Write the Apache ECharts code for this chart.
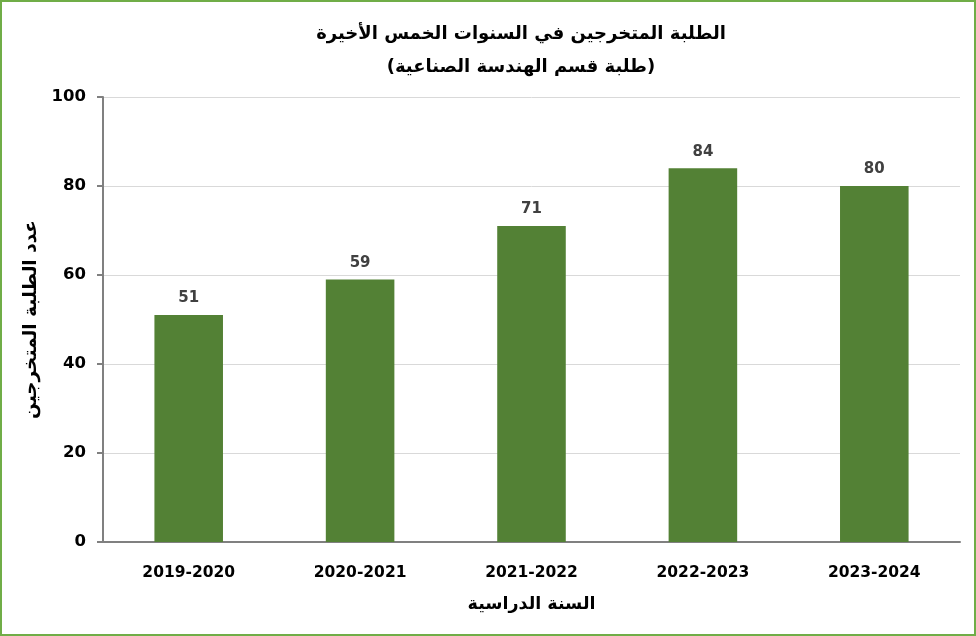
<!DOCTYPE html>
<html>
<head>
<meta charset="utf-8">
<script src="https://cdn.jsdelivr.net/npm/echarts@6/dist/echarts.min.js"></script>
<style>
html,body{margin:0;padding:0;background:#fff;}
#wrap{width:976px;height:636px;box-sizing:border-box;border:2px solid #70ad47;position:relative;}
#chart{position:absolute;left:-2px;top:-2px;width:976px;height:636px;}
</style>
</head>
<body>
<div id="wrap"><div id="chart"></div></div>
<script>
const categories = ['2019-2020','2020-2021','2021-2022','2022-2023','2023-2024'];
const graduates = [51, 59, 71, 84, 80];
const yTicks = [0, 20, 40, 60, 80, 100];

const titleLine1 = 'الطلبة المتخرجين في السنوات الخمس الأخيرة';
const titleLine2 = '(طلبة قسم الهندسة الصناعية)';
const xName = 'السنة الدراسية';
const yName = 'عدد الطلبة المتخرجين';

const chart = echarts.init(document.getElementById('chart'));
chart.setOption({
  animation: false,
  textStyle: {fontFamily: 'DejaVu Sans, sans-serif'},
  title: {
    text: titleLine1 + '\n' + titleLine2,
    left: 516, top: 13, textAlign: 'center',
    textStyle: {fontSize: 18, fontWeight: 'bold', color: '#000', lineHeight: 33, fontFamily: 'DejaVu Sans'}
  },
  grid: {left: 103, right: 16, top: 97, bottom: 94, containLabel: false},
  xAxis: {
    type: 'category', data: categories,
    name: xName, nameLocation: 'middle', nameGap: 53,
    nameTextStyle: {fontSize: 17.5, fontWeight: 'bold', color: '#000', fontFamily: 'DejaVu Sans'},
    axisLine: {lineStyle: {color: '#808080', width: 2}},
    axisTick: {show: false},
    axisLabel: {fontSize: 15.5, fontWeight: 'bold', color: '#000', margin: 23, fontFamily: 'DejaVu Sans'}
  },
  yAxis: {
    type: 'value', min: yTicks[0], max: yTicks[yTicks.length-1], interval: 20,
    name: yName, nameLocation: 'middle', nameGap: 58, nameRotate: 90,
    nameTextStyle: {fontSize: 18.5, fontWeight: 'bold', color: '#000', fontFamily: 'DejaVu Sans'},
    axisLine: {show: true, lineStyle: {color: '#808080', width: 2}},
    axisTick: {show: true, length: 6, lineStyle: {color: '#808080', width: 2}},
    axisLabel: {fontSize: 16.5, fontWeight: 'bold', color: '#000', margin: 17, fontFamily: 'DejaVu Sans'},
    splitLine: {lineStyle: {color: '#d9d9d9', width: 1}}
  },
  series: [{
    type: 'bar', data: graduates, barWidth: '40%',
    itemStyle: {color: '#538135'},
    label: {show: true, position: 'top', distance: 9, fontSize: 15, fontWeight: 'bold', color: '#404040', fontFamily: 'DejaVu Sans'}
  }]
});
</script>
</body>
</html>
